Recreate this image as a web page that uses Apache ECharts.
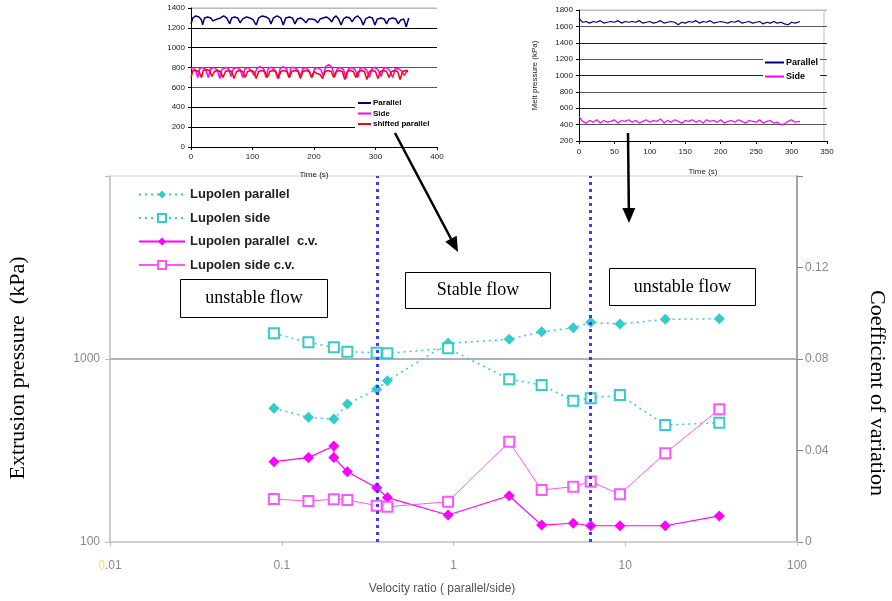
<!DOCTYPE html>
<html>
<head>
<meta charset="utf-8">
<script src="https://cdn.jsdelivr.net/npm/echarts@6/dist/echarts.min.js"></script>
<style>
  html, body { margin: 0; padding: 0; background: #fff; }
  #chart { width: 892px; height: 601px; }
</style>
</head>
<body>
<div id="chart"></div>
<script>
// main chart: velocity ratio vs extrusion pressure / c.v.
let ratio = [0.090, 0.143, 0.201, 0.241, 0.357, 0.412, 0.93, 2.11, 3.26, 4.98, 6.29, 9.31, 17.1, 35.3];
let pressParallel = [538, 480, 470, 568, 683, 761, 1218, 1281, 1410, 1483, 1587, 1553, 1648, 1660];
let pressSide = [1381, 1233, 1158, 1096, 1082, 1074, 1144, 775, 721, 592, 610, 636, 436, 449];
let ratioCv = [0.090, 0.143, 0.201, 0.201, 0.241, 0.357, 0.412, 0.93, 2.11, 3.26, 4.98, 6.29, 9.31, 17.1, 35.3];
let cvParallel = [0.0351, 0.0369, 0.0420, 0.0369, 0.0307, 0.0237, 0.0194, 0.0118, 0.0202, 0.0074, 0.0082, 0.0071, 0.0071, 0.0071, 0.0114];
let cvSide = [0.0188, 0.0179, 0.0187, 0.0184, 0.0159, 0.0154, 0.0176, 0.0438, 0.0227, 0.0242, 0.0264, 0.0209, 0.0388, 0.0580];
let flowLimits = [0.357, 6.27];

// inset 1 (time series, unstable)
let ins1Parallel = [[0,1240],[3,1300],[8,1320],[13,1310],[17,1280],[19,1230],[22,1300],[27,1310],[32,1300],[36,1270],[39,1250],[43,1290],[48,1300],[53,1320],[58,1300],[63,1240],[66,1300],[71,1310],[76,1300],[80,1250],[84,1290],[90,1310],[96,1300],[101,1280],[106,1230],[110,1300],[116,1320],[122,1310],[127,1290],[130,1240],[134,1300],[140,1320],[146,1300],[150,1230],[154,1300],[160,1310],[165,1300],[169,1240],[173,1290],[178,1300],[183,1280],[187,1250],[191,1290],[197,1290],[202,1280],[206,1250],[210,1290],[215,1300],[220,1310],[225,1290],[229,1260],[232,1300],[236,1320],[240,1290],[244,1230],[248,1290],[253,1310],[258,1300],[262,1260],[266,1300],[271,1320],[276,1290],[280,1230],[284,1290],[290,1310],[295,1300],[299,1230],[303,1290],[309,1300],[314,1290],[318,1240],[322,1290],[328,1300],[333,1290],[337,1240],[341,1280],[346,1290],[350,1210],[354,1300]];
let ins1Side = [[0,790],[4,800],[8,760],[11,700],[14,790],[19,800],[24,780],[28,700],[32,790],[38,800],[43,770],[47,690],[50,780],[56,800],[61,790],[65,710],[69,790],[75,800],[80,780],[84,700],[88,790],[93,800],[98,770],[103,720],[107,790],[112,810],[118,790],[122,700],[126,800],[131,800],[136,780],[141,690],[145,790],[150,810],[155,790],[159,700],[163,800],[168,800],[173,780],[178,720],[182,790],[187,800],[192,770],[197,700],[201,790],[206,800],[211,780],[215,720],[219,810],[224,830],[229,800],[234,710],[238,790],[243,800],[248,780],[252,690],[256,790],[262,800],[267,780],[271,700],[275,790],[280,800],[285,780],[290,700],[294,790],[299,800],[304,780],[309,710],[313,790],[318,800],[323,770],[328,700],[332,790],[337,790],[342,770],[347,720],[352,780]];
let ins1Shifted = [[0,700],[3,770],[8,770],[13,760],[17,700],[20,770],[25,780],[30,770],[34,710],[38,760],[43,770],[48,760],[52,700],[56,760],[61,770],[66,760],[70,690],[74,760],[79,770],[84,760],[88,700],[92,760],[97,770],[102,760],[106,690],[110,760],[115,770],[120,760],[124,700],[128,760],[133,770],[138,760],[142,690],[146,760],[151,770],[156,760],[160,700],[164,760],[169,770],[174,760],[178,690],[182,760],[187,770],[192,760],[196,700],[200,760],[205,740],[210,730],[214,690],[218,760],[223,770],[228,760],[232,700],[236,760],[241,770],[246,760],[250,680],[254,760],[259,770],[264,760],[268,700],[272,760],[277,770],[282,760],[286,680],[290,760],[295,770],[300,760],[304,690],[308,760],[313,770],[318,760],[322,700],[326,760],[331,770],[336,760],[340,680],[344,760],[349,770],[353,760]];

// inset 2 (time series, stable)
let ins2Time = [0,5,10,15,20,25,30,35,40,45,50,55,60,65,70,75,80,85,90,95,100,105,110,115,120,125,130,135,140,145,150,155,160,165,170,175,180,185,190,195,200,205,210,215,220,225,230,235,240,245,250,255,260,265,270,275,280,285,290,295,300,305,312];
let ins2Parallel = [1700,1650,1660,1640,1660,1650,1670,1640,1650,1660,1650,1670,1640,1660,1650,1660,1650,1670,1640,1650,1660,1640,1650,1670,1640,1650,1660,1650,1620,1650,1640,1660,1650,1670,1640,1660,1650,1670,1640,1650,1660,1650,1640,1660,1650,1670,1640,1650,1660,1640,1650,1660,1630,1650,1640,1660,1640,1650,1630,1620,1650,1640,1660];
let ins2Side = [500,440,420,450,430,460,420,450,430,440,460,420,450,440,460,430,450,420,440,460,430,450,440,470,420,450,430,460,440,420,450,440,460,430,450,420,460,440,450,430,460,420,440,450,430,460,440,420,450,440,430,460,420,440,450,420,430,400,410,440,460,430,440];

let myChart = echarts.init(document.getElementById('chart'));

const cyan = '#33cccc';
const magenta = '#ff00ff';
const serif = '"Liberation Serif", "Times New Roman", serif';
const sans = 'Arial, "Liberation Sans", sans-serif';
const tiny = {fontSize: 8, color: '#222', fontFamily: sans, formatter: v => String(v)};

function pairs(xs, ys) {
  return xs.map((x, i) => [x, ys[i]]);
}

function textBox(x, y, w, h, txt) {
  return {
    type: 'group', left: x, top: y,
    children: [
      {type: 'rect', shape: {x: 0, y: 0, width: w, height: h}, style: {fill: '#fff', stroke: '#000', lineWidth: 1}},
      {type: 'text', x: w / 2, y: h / 2, style: {text: txt, font: '18px ' + serif, fill: '#000', align: 'center', verticalAlign: 'middle'}}
    ]
  };
}

function arrow(x1, y1, x2, y2) {
  let dx = x2 - x1, dy = y2 - y1;
  let len = Math.sqrt(dx * dx + dy * dy);
  let ux = dx / len, uy = dy / len;
  let bx = x2 - ux * 15, by = y2 - uy * 15;
  let px = -uy * 6.5, py = ux * 6.5;
  return [
    {type: 'line', shape: {x1: x1, y1: y1, x2: bx, y2: by}, style: {stroke: '#000', lineWidth: 2.5}, z: 100},
    {type: 'polygon', shape: {points: [[x2, y2], [bx + px, by + py], [bx - px, by - py]]}, style: {fill: '#000'}, z: 100}
  ];
}

let option = {
  animation: false,
  backgroundColor: '#fff',
  grid: [
    {left: 110, right: 95, top: 176, bottom: 59},
    {left: 191, width: 246, top: 8, height: 139},
    {left: 579, width: 248, top: 10, height: 131}
  ],
  legend: [
    {
      orient: 'vertical', left: 133, top: 183, itemWidth: 46, itemHeight: 10, itemGap: 10.5,
      data: ['Lupolen parallel', 'Lupolen side', 'Lupolen parallel  c.v.', 'Lupolen side c.v.'],
      textStyle: {fontSize: 13, fontWeight: 'bold', color: '#222', fontFamily: sans}
    },
    {
      orient: 'vertical', left: 355, top: 96, itemWidth: 13, itemHeight: 2, itemGap: 2.5, padding: [3, 8, 3, 3],
      backgroundColor: '#fff', icon: 'rect',
      data: ['Parallel', 'Side', 'shifted parallel'],
      textStyle: {fontSize: 8, fontWeight: 'bold', color: '#000', fontFamily: sans, padding: [0, 0, 0, -3]}
    },
    {
      orient: 'vertical', left: 763, top: 54, itemWidth: 19, itemHeight: 2, itemGap: 5, padding: [4, 2, 4, 2],
      backgroundColor: '#fff', icon: 'rect',
      data: ['Parallel', 'Side'],
      textStyle: {fontSize: 9, fontWeight: 'bold', color: '#000', fontFamily: sans, padding: [0, 0, 0, -3]}
    }
  ],
  xAxis: [
    {
      type: 'log', logBase: 10, min: 0.01, max: 100, gridIndex: 0,
      axisLine: {lineStyle: {color: '#ccc', width: 1.5}},
      axisTick: {show: true, length: 4, lineStyle: {color: '#bbb'}},
      splitLine: {show: false},
      axisLabel: {
        margin: 18, color: '#888', fontSize: 12, fontFamily: sans,
        formatter: v => Math.abs(v - 0.01) < 1e-9 ? '{y|0}.01' : String(v),
        rich: {y: {color: '#f5e642', fontSize: 12, fontFamily: sans}}
      }
    },
    {
      type: 'value', min: 0, max: 400, interval: 100, gridIndex: 1,
      name: 'Time (s)', nameLocation: 'middle', nameGap: 24,
      nameTextStyle: {fontSize: 8, color: '#222', fontFamily: sans},
      axisLine: {lineStyle: {color: '#000'}},
      axisTick: {show: true, length: 3, lineStyle: {color: '#000'}},
      splitLine: {show: false},
      axisLabel: Object.assign({margin: 6}, tiny)
    },
    {
      type: 'value', min: 0, max: 350, interval: 50, gridIndex: 2,
      name: 'Time (s)', nameLocation: 'middle', nameGap: 27,
      nameTextStyle: {fontSize: 8, color: '#222', fontFamily: sans},
      axisLine: {lineStyle: {color: '#000'}},
      axisTick: {show: true, length: 3, lineStyle: {color: '#000'}},
      splitLine: {show: false},
      axisLabel: Object.assign({margin: 7}, tiny)
    }
  ],
  yAxis: [
    {
      type: 'log', logBase: 10, min: 100, max: 10000, gridIndex: 0,
      axisLine: {show: true, lineStyle: {color: '#bbb', width: 1.5}},
      axisTick: {show: true, length: 5, lineStyle: {color: '#bbb'}},
      splitLine: {show: true, lineStyle: {color: ['#ccc', '#999', '#e6e6e6'], width: 1.5}},
      axisLabel: {
        margin: 10, color: '#888', fontSize: 12, fontFamily: sans,
        formatter: v => v > 5000 ? '' : String(Math.round(v))
      }
    },
    {
      type: 'value', min: 0, max: 0.16, interval: 0.04, gridIndex: 0, position: 'right',
      axisLine: {show: true, lineStyle: {color: '#888', width: 1.5}},
      axisTick: {show: true, length: 6, lineStyle: {color: '#888'}},
      splitLine: {show: false},
      axisLabel: {
        margin: 8, color: '#888', fontSize: 12, fontFamily: sans,
        formatter: v => v > 0.15 ? '' : String(+v.toFixed(2))
      }
    },
    {
      type: 'value', min: 0, max: 1400, interval: 200, gridIndex: 1,
      axisLine: {show: true, lineStyle: {color: '#000'}},
      axisTick: {show: true, length: 3, lineStyle: {color: '#000'}},
      splitLine: {show: true, lineStyle: {color: ['#000', '#000', '#000', '#555', '#555', '#000', '#000', '#bbb'], width: 1}},
      axisLabel: Object.assign({margin: 6}, tiny)
    },
    {
      type: 'value', min: 200, max: 1800, interval: 200, gridIndex: 2,
      name: 'Melt pressure (kPa)', nameLocation: 'middle', nameGap: 40,
      nameTextStyle: {fontSize: 8, color: '#222', fontFamily: sans},
      axisLine: {show: true, lineStyle: {color: '#000'}},
      axisTick: {show: true, length: 3, lineStyle: {color: '#000'}},
      splitLine: {show: true, lineStyle: {color: ['#555', '#555', '#222', '#555', '#222', '#555', '#222', '#555', '#bbb'], width: 1.2}},
      axisLabel: Object.assign({margin: 6}, tiny)
    }
  ],
  series: [
    {
      name: 'Lupolen parallel', type: 'line', xAxisIndex: 0, yAxisIndex: 0,
      data: pairs(ratio, pressParallel),
      symbol: 'diamond', symbolSize: 11,
      itemStyle: {color: cyan},
      lineStyle: {color: cyan, width: 1.5, type: [2, 4]},
      markLine: {
        silent: true, symbol: 'none', label: {show: false},
        lineStyle: {color: '#3b3bff', width: 3, type: [3, 4]},
        data: flowLimits.map(v => ({xAxis: v}))
      },
      z: 3
    },
    {
      name: 'Lupolen side', type: 'line', xAxisIndex: 0, yAxisIndex: 0,
      data: pairs(ratio, pressSide),
      symbol: 'emptyRect', symbolSize: 10,
      itemStyle: {color: cyan, borderWidth: 1},
      lineStyle: {color: cyan, width: 1.5, type: [2, 4]},
      z: 3
    },
    {
      name: 'Lupolen parallel  c.v.', type: 'line', xAxisIndex: 0, yAxisIndex: 1,
      data: pairs(ratioCv, cvParallel),
      symbol: 'diamond', symbolSize: 11,
      itemStyle: {color: magenta},
      lineStyle: {color: magenta, width: 1.2},
      z: 3
    },
    {
      name: 'Lupolen side c.v.', type: 'line', xAxisIndex: 0, yAxisIndex: 1,
      data: pairs(ratio, cvSide),
      symbol: 'emptyRect', symbolSize: 10,
      itemStyle: {color: '#ff55ff', borderWidth: 1},
      lineStyle: {color: '#ff55ff', width: 1},
      z: 3
    },
    {
      name: 'Parallel', type: 'line', xAxisIndex: 1, yAxisIndex: 2,
      data: ins1Parallel, showSymbol: false, symbol: 'none',
      lineStyle: {color: '#000080', width: 1.5}, itemStyle: {color: '#000080'}
    },
    {
      name: 'Side', type: 'line', xAxisIndex: 1, yAxisIndex: 2,
      data: ins1Side, showSymbol: false, symbol: 'none',
      lineStyle: {color: magenta, width: 1.5}, itemStyle: {color: magenta}
    },
    {
      name: 'shifted parallel', type: 'line', xAxisIndex: 1, yAxisIndex: 2,
      data: ins1Shifted, showSymbol: false, symbol: 'none',
      lineStyle: {color: '#ff0000', width: 1.5}, itemStyle: {color: '#ff0000'}
    },
    {
      name: 'Parallel', type: 'line', xAxisIndex: 2, yAxisIndex: 3,
      data: pairs(ins2Time, ins2Parallel), showSymbol: false, symbol: 'none',
      lineStyle: {color: '#000080', width: 1.2}, itemStyle: {color: '#000080'}
    },
    {
      name: 'Side', type: 'line', xAxisIndex: 2, yAxisIndex: 3,
      data: pairs(ins2Time, ins2Side), showSymbol: false, symbol: 'none',
      lineStyle: {color: magenta, width: 1.2}, itemStyle: {color: magenta}
    }
  ],
  graphic: [
    // plot borders not drawn by the axes
    {type: 'line', shape: {x1: 110, y1: 176, x2: 797, y2: 176}, style: {stroke: '#e4e4e4', lineWidth: 1.5}},
    {type: 'line', shape: {x1: 191, y1: 8, x2: 437, y2: 8}, style: {stroke: '#bbb', lineWidth: 1}},
    {type: 'line', shape: {x1: 579, y1: 10, x2: 827, y2: 10}, style: {stroke: '#bbb', lineWidth: 1}},
    {type: 'line', shape: {x1: 824, y1: 10, x2: 824, y2: 141}, style: {stroke: '#bbb', lineWidth: 1}},
    textBox(180, 279, 147, 38, 'unstable flow'),
    textBox(405, 272, 145, 36, 'Stable flow'),
    textBox(609, 268, 146, 37, 'unstable flow'),
    {
      type: 'text', x: 18, y: 368, rotation: Math.PI / 2,
      style: {text: 'Extrusion pressure  (kPa)', font: '22px ' + serif, fill: '#000', align: 'center', verticalAlign: 'middle'}
    },
    {
      type: 'text', x: 877, y: 393, rotation: -Math.PI / 2,
      style: {text: 'Coefficient of variation', font: '22px ' + serif, fill: '#000', align: 'center', verticalAlign: 'middle'}
    },
    {
      type: 'text', x: 442, y: 589,
      style: {text: 'Velocity ratio ( parallel/side)', font: '12px ' + sans, fill: '#555', align: 'center', verticalAlign: 'middle'}
    }
  ].concat(arrow(395, 133, 458, 252), arrow(628, 133, 629, 223))
};

myChart.setOption(option);
</script>
</body>
</html>
